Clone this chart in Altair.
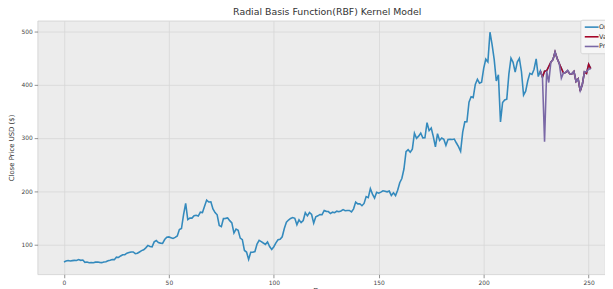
import altair as alt
import pandas as pd

# Closing prices (USD) per trading day
close = [
    67.4, 69.0, 70.0, 69.2, 69.9, 70.4, 70.0, 71.9, 70.4, 71.0,
    66.6, 67.3, 65.8, 66.3, 66.0, 67.0, 67.2, 66.6, 66.1, 67.2,
    67.9, 69.8, 70.5, 71.9, 71.7, 76.3, 75.8, 78.6, 80.8, 81.1,
    83.8, 85.1, 86.2, 86.1, 82.9, 83.7, 86.1, 88.6, 90.3, 93.8,
    98.4, 96.3, 95.6, 105.0, 107.6, 103.7, 102.7, 102.1, 109.4, 113.9,
    114.4, 113.0, 111.6, 113.4, 116.2, 128.2, 130.1, 156.0, 177.4, 146.9,
    149.8, 149.6, 154.3, 154.9, 153.5, 160.8, 160.0, 171.7, 183.5, 179.9,
    180.2, 166.8, 160.0, 155.8, 135.8, 133.6, 148.7, 149.1, 149.9, 144.9,
    140.7, 121.6, 129.1, 126.8, 112.1, 109.3, 89.0, 86.0, 72.2, 85.5,
    85.5, 86.9, 101.0, 107.9, 105.6, 102.9, 100.4, 104.8, 96.3, 90.9,
    96.0, 103.2, 109.1, 109.8, 114.6, 130.2, 142.0, 146.0, 149.0, 150.8,
    149.3, 137.3, 146.4, 141.1, 145.0, 159.8, 153.8, 160.1, 156.4, 140.3,
    152.2, 153.9, 156.5, 156.0, 163.9, 162.3, 161.9, 158.2, 160.7, 159.8,
    162.7, 161.6, 163.1, 165.5, 163.4, 163.8, 164.0, 161.2, 167.0, 179.6,
    176.3, 176.6, 172.9, 177.1, 190.0, 188.1, 205.0, 194.6, 187.1, 198.2,
    196.4, 198.4, 200.8, 200.2, 198.9, 200.4, 192.2, 197.2, 191.9, 201.9,
    216.0, 223.9, 241.7, 274.3, 278.0, 273.2, 278.9, 308.9, 299.4, 303.4,
    309.2, 300.1, 300.2, 328.6, 313.7, 318.5, 302.6, 283.4, 307.9, 295.3,
    299.8, 297.5, 286.2, 297.0, 297.4, 297.0, 297.9, 290.5, 283.7, 274.9,
    311.0, 330.1, 330.2, 367.1, 377.4, 375.7, 400.4, 410.0, 402.8, 404.7,
    430.6, 447.8, 442.7, 498.3, 475.1, 447.4, 407.0, 418.3, 330.2, 366.3,
    371.3, 372.7, 419.6, 449.8, 441.8, 423.4, 442.2, 449.4, 424.2, 380.4,
    387.8, 407.3, 421.2, 419.1, 429.0, 448.2, 415.1, 425.7, 414.0, 425.3,
    425.9, 434.0, 442.3, 446.7, 461.3, 448.9, 439.7, 430.8, 421.9, 422.6,
    425.8, 420.6, 420.3, 424.7, 406.0, 410.8, 388.0, 400.5, 423.9, 421.0,
    438.1, 430.0,
]

valid_start = 227

predictions = [
    425.7, 414.0, 293.0, 425.9, 404.0, 442.3, 446.7, 461.3, 448.9, 439.7,
    412.0, 421.9, 422.6, 427.0, 420.6, 420.3, 424.7, 406.0, 410.8, 389.0,
    400.5, 423.9, 424.0, 429.0, 430.0,
]

series_names = ["Original", "Valid", "Predictions"]
series_colors = ["#348ABD", "#A60628", "#7A68A6"]
x_ticks = [0, 50, 100, 150, 200, 250]
y_ticks = [100, 200, 300, 400, 500]

days = list(range(len(close)))
df_orig = pd.DataFrame({"day": days, "price": close, "series": "Original"})
df_valid = pd.DataFrame({"day": days[valid_start:], "price": close[valid_start:], "series": "Valid"})
df_pred = pd.DataFrame({"day": days[valid_start:], "price": predictions, "series": "Predictions"})

FONT = "DejaVu Sans"

color = alt.Color(
    "series:N",
    scale=alt.Scale(domain=series_names, range=series_colors),
    legend=alt.Legend(
        title=None, orient="none", legendX=550, legendY=-1,
        symbolType="M-2,0H2", symbolSize=49, symbolStrokeWidth=1.6,
        symbolOffset=4,
        labelFont=FONT, labelFontSize=6.5, labelColor="#333", labelOffset=3,
        rowPadding=1.8, padding=3, fillColor="#f6f6f6",
        strokeColor="#d4d4d4", cornerRadius=2,
    ),
)

x = alt.X(
    "day:Q",
    scale=alt.Scale(domain=[-12.55, 257.8], nice=False, zero=False),
    axis=alt.Axis(values=x_ticks, title="Days", format="d", titlePadding=1),
)
y = alt.Y(
    "price:Q",
    scale=alt.Scale(domain=[44.2, 519.9], nice=False, zero=False),
    axis=alt.Axis(values=y_ticks, title="Close Price USD ($)", format="d", titlePadding=6),
)


def line(df):
    return alt.Chart(df).mark_line(strokeWidth=1.6, clip=True).encode(x=x, y=y, color=color)


chart = (
    alt.layer(line(df_orig), line(df_valid), line(df_pred))
    .properties(
        width=575,
        height=257,
        title=alt.TitleParams(
            "Radial Basis Function(RBF) Kernel Model",
            font=FONT, fontSize=9.5, fontWeight="normal", color="#333",
            offset=3, dx=6,
        ),
        autosize=alt.AutoSizeParams(type="none"),
        padding={"left": 30, "top": 11, "right": 0, "bottom": 13},
    )
    .configure(background="white")
    .configure_view(fill="#ECECEC", stroke="#d0d0d0", strokeWidth=0.8)
    .configure_axis(
        domain=False,
        grid=True, gridColor="#d6d6d6", gridWidth=0.8,
        ticks=True, tickColor="#777", tickSize=3.5, tickWidth=0.8,
        labelFont=FONT, labelFontSize=6, labelColor="#444", labelPadding=2,
        titleFont=FONT, titleFontSize=7, titleFontWeight="normal", titleColor="#333",
    )
)

chart.save("out.html", embed_options={"renderer": "svg", "actions": False})
